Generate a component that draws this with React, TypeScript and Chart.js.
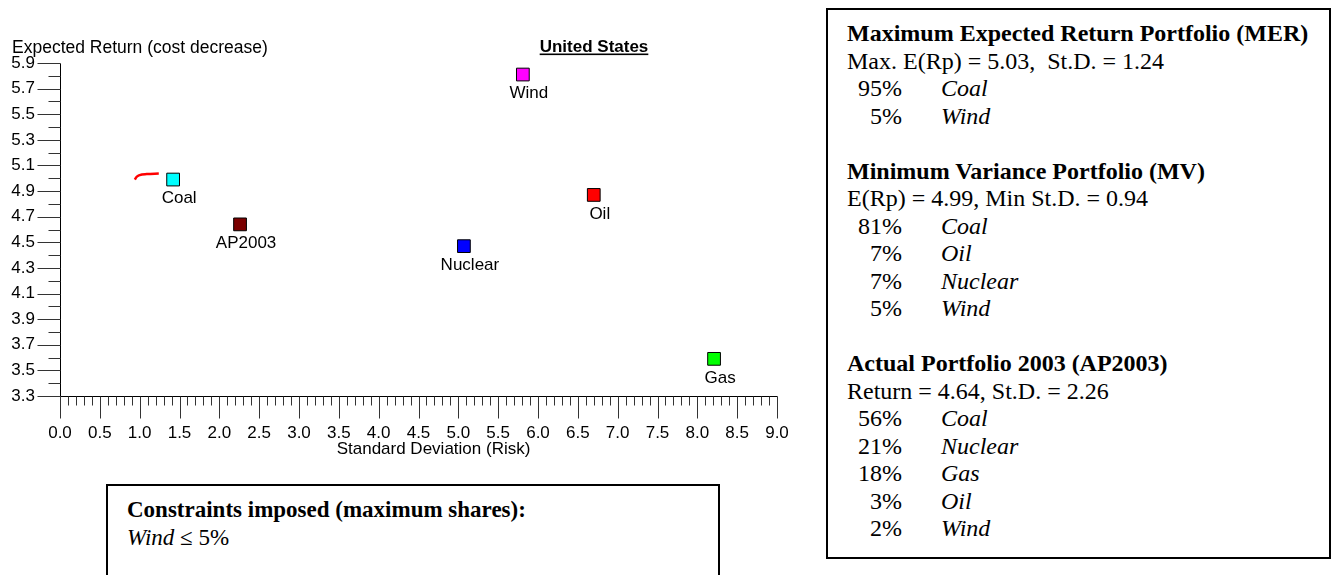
import React, { useEffect, useRef } from "react";
import { Chart, registerables } from "chart.js";

Chart.register(...registerables);

// ---- data ----
const SOURCES = ["Coal", "AP2003", "Wind", "Oil", "Nuclear", "Gas"];
const RISK = [1.42, 2.26, 5.81, 6.7, 5.07, 8.21];
const RETURN = [4.99, 4.64, 5.81, 4.87, 4.47, 3.59];
const COLORS = ["#00ffff", "#7a0000", "#ff00ff", "#ff0000", "#0000ff", "#00ff00"];

const FRONTIER_RISK = [0.94, 0.96, 1.0, 1.09, 1.24];
const FRONTIER_RETURN = [4.99, 5.01, 5.025, 5.033, 5.037];

const Y_TICKS = [3.3, 3.5, 3.7, 3.9, 4.1, 4.3, 4.5, 4.7, 4.9, 5.1, 5.3, 5.5, 5.7, 5.9];
const X_TICKS = [0, 0.5, 1, 1.5, 2, 2.5, 3, 3.5, 4, 4.5, 5, 5.5, 6, 6.5, 7, 7.5, 8, 8.5, 9];
const X_MINOR_STEP = 0.1;

const Y_TITLE = "Expected Return (cost decrease)";
const X_TITLE = "Standard Deviation (Risk)";
const CHART_TITLE = "United States";

const MER_TITLE = "Maximum Expected Return Portfolio (MER)";
const MER_STATS = "Max. E(Rp) = 5.03,  St.D. = 1.24";
const MER_SHARES = ["95%", "5%"];
const MER_NAMES = ["Coal", "Wind"];

const MV_TITLE = "Minimum Variance Portfolio (MV)";
const MV_STATS = "E(Rp) = 4.99, Min St.D. = 0.94";
const MV_SHARES = ["81%", "7%", "7%", "5%"];
const MV_NAMES = ["Coal", "Oil", "Nuclear", "Wind"];

const AP_TITLE = "Actual Portfolio 2003 (AP2003)";
const AP_STATS = "Return = 4.64, St.D. = 2.26";
const AP_SHARES = ["56%", "21%", "18%", "3%", "2%"];
const AP_NAMES = ["Coal", "Nuclear", "Gas", "Oil", "Wind"];

const CONSTRAINT_TITLE = "Constraints imposed (maximum shares):";
const CONSTRAINT_NAME = "Wind";
const CONSTRAINT_LIMIT = " \u2264 5%";

const SANS = '"Liberation Sans", Arial, sans-serif';
const SERIF = '"Liberation Serif", "Times New Roman", serif';

const overlay = {
  id: "overlay",
  afterDraw(chart: any) {
    const { ctx } = chart;
    const x = chart.scales.x;
    const y = chart.scales.y;
    const r = (v: number) => Math.round(v) + 0.5;
    ctx.save();
    ctx.strokeStyle = "#000";
    ctx.lineWidth = 1;
    const ax = r(x.getPixelForValue(X_TICKS[0]));
    const ay = r(y.getPixelForValue(Y_TICKS[0]));
    // axes
    ctx.beginPath();
    ctx.moveTo(ax, r(y.getPixelForValue(Y_TICKS[Y_TICKS.length - 1])));
    ctx.lineTo(ax, ay);
    ctx.lineTo(r(x.getPixelForValue(X_TICKS[X_TICKS.length - 1])), ay);
    ctx.stroke();
    // y ticks
    ctx.strokeStyle = "#333";
    ctx.beginPath();
    Y_TICKS.forEach((v, i) => {
      const py = r(y.getPixelForValue(v));
      ctx.moveTo(ax - 23, py);
      ctx.lineTo(ax, py);
      if (i < Y_TICKS.length - 1) {
        const m = r(y.getPixelForValue((v + Y_TICKS[i + 1]) / 2));
        ctx.moveTo(ax - 12, m);
        ctx.lineTo(ax, m);
      }
    });
    // x ticks
    const xmax = X_TICKS[X_TICKS.length - 1];
    const n = Math.round((xmax - X_TICKS[0]) / X_MINOR_STEP);
    for (let i = 0; i <= n; i++) {
      const v = X_TICKS[0] + i * X_MINOR_STEP;
      const px = r(x.getPixelForValue(v));
      const major = i % 5 === 0;
      ctx.moveTo(px, ay);
      ctx.lineTo(px, ay + (major ? 22 : 9));
    }
    ctx.stroke();

    // marker labels
    ctx.fillStyle = "#000";
    ctx.font = `17px ${SANS}`;
    ctx.textAlign = "center";
    ctx.textBaseline = "middle";
    SOURCES.forEach((s, i) => {
      ctx.fillText(s, x.getPixelForValue(RISK[i]) + 6, y.getPixelForValue(RETURN[i]) + 19);
    });

    // axis titles
    ctx.fillText(X_TITLE, (x.left + x.right) / 2 + 15, ay + 53);
    ctx.textAlign = "left";
    ctx.font = `17.5px ${SANS}`;
    ctx.fillText(Y_TITLE, 12, 48);

    // chart title underlined
    ctx.font = `bold 17px ${SANS}`;
    ctx.textAlign = "center";
    const tx = 594;
    ctx.fillText(CHART_TITLE, tx, 47.5);
    const w = ctx.measureText(CHART_TITLE).width;
    ctx.fillRect(tx - w / 2, 53.5, w, 1.6);
    ctx.restore();
  },
};

function Rows({ shares, names }: { shares: string[]; names: string[] }) {
  return (
    <>
      {shares.map((s, i) => (
        <div key={i} style={{ display: "flex" }}>
          <span style={{ width: 55, textAlign: "right" }}>{s}</span>
          <span style={{ marginLeft: 39, fontStyle: "italic" }}>{names[i]}</span>
        </div>
      ))}
    </>
  );
}

export default function App() {
  const ref = useRef<HTMLCanvasElement>(null);
  useEffect(() => {
    if (!ref.current) return;
    const chart = new Chart(ref.current, {
      type: "scatter",
      data: {
        datasets: [
          {
            data: FRONTIER_RISK.map((v, i) => ({ x: v, y: FRONTIER_RETURN[i] })),
            showLine: true,
            borderColor: "#ff0000",
            borderWidth: 2.5,
            pointRadius: 0,
            cubicInterpolationMode: "monotone",
          } as any,
          {
            data: RISK.map((v, i) => ({ x: v, y: RETURN[i] })),
            pointStyle: "rect",
            pointRadius: 9,
            backgroundColor: COLORS,
            borderColor: "#000",
            borderWidth: 1,
          },
        ],
      },
      options: {
        responsive: false,
        animation: false,
        events: [],
        layout: { padding: { left: 0, top: 63, right: 33, bottom: 0 } },
        plugins: { legend: { display: false }, tooltip: { enabled: false } },
        scales: {
          x: {
            type: "linear",
            min: X_TICKS[0],
            max: X_TICKS[X_TICKS.length - 1],
            afterBuildTicks: (s: any) => {
              s.ticks = X_TICKS.map((v) => ({ value: v }));
            },
            afterFit: (s: any) => {
              s.height = 84;
              s.paddingLeft = 0;
              s.paddingRight = 0;
            },
            grid: { display: false, drawTicks: false },
            border: { display: false },
            ticks: {
              padding: 27,
              color: "#000",
              maxRotation: 0,
              autoSkip: false,
              font: { family: SANS, size: 17 },
              callback: (v: any) => Number(v).toFixed(1),
            },
          },
          y: {
            type: "linear",
            min: Y_TICKS[0],
            max: Y_TICKS[Y_TICKS.length - 1],
            afterBuildTicks: (s: any) => {
              s.ticks = Y_TICKS.map((v) => ({ value: v }));
            },
            afterFit: (s: any) => {
              s.width = 60;
            },
            grid: { display: false, drawTicks: false },
            border: { display: false },
            ticks: {
              padding: 25,
              color: "#000",
              autoSkip: false,
              font: { family: SANS, size: 17 },
              callback: (v: any) => Number(v).toFixed(1),
            },
          },
        },
      },
      plugins: [overlay],
    });
    return () => chart.destroy();
  }, []);

  const box: React.CSSProperties = {
    position: "absolute",
    boxSizing: "border-box",
    border: "2px solid #000",
    fontFamily: SERIF,
    lineHeight: "27.5px",
    color: "#000",
    whiteSpace: "pre",
  };

  return (
    <div
      style={{
        position: "absolute",
        left: 0,
        top: 0,
        width: 1337,
        height: 575,
        overflow: "hidden",
        background: "#fff",
      }}
    >
      <canvas
        ref={ref}
        width={810}
        height={480}
        style={{ position: "absolute", left: 0, top: 0, width: 810, height: 480 }}
      />
      <div
        style={{
          ...box,
          fontSize: 24,
          left: 826,
          top: 8,
          width: 505,
          height: 551,
          padding: "10px 0 0 19px",
        }}
      >
        <div style={{ fontWeight: "bold" }}>{MER_TITLE}</div>
        <div>{MER_STATS}</div>
        <Rows shares={MER_SHARES} names={MER_NAMES} />
        <div style={{ height: 27.5 }} />
        <div style={{ fontWeight: "bold" }}>{MV_TITLE}</div>
        <div>{MV_STATS}</div>
        <Rows shares={MV_SHARES} names={MV_NAMES} />
        <div style={{ height: 27.5 }} />
        <div style={{ fontWeight: "bold" }}>{AP_TITLE}</div>
        <div>{AP_STATS}</div>
        <Rows shares={AP_SHARES} names={AP_NAMES} />
      </div>
      <div
        style={{
          ...box,
          fontSize: 23,
          left: 106,
          top: 484,
          width: 614,
          height: 140,
          padding: "10px 0 0 19px",
        }}
      >
        <div style={{ fontWeight: "bold" }}>{CONSTRAINT_TITLE}</div>
        <div>
          <span style={{ fontStyle: "italic" }}>{CONSTRAINT_NAME}</span>
          {CONSTRAINT_LIMIT}
        </div>
      </div>
    </div>
  );
}
